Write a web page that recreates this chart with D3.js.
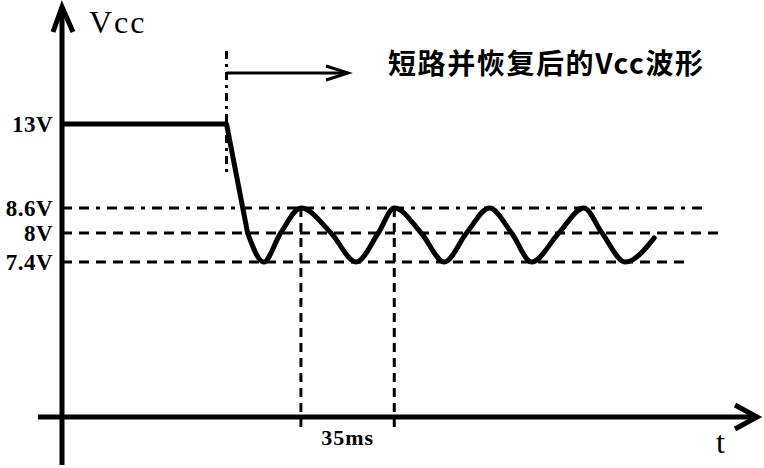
<!DOCTYPE html>
<html>
<head>
<meta charset="utf-8">
<script src="https://cdn.jsdelivr.net/npm/d3@7"></script>
<style>
  html, body { margin: 0; padding: 0; background: #fff; }
  svg { display: block; }
</style>
</head>
<body>
<script>
// ---- data (time in ms, voltage in V) ----
const yTickValues = [13, 8.6, 8, 7.4];
const yTickLabels = ["13V", "8.6V", "8V", "7.4V"];
// guide lines: voltage level and time where the dashed line ends
const guideLevels = [8.6, 8, 7.4];
const guideEnds = [240, 247.5, 234.7];
// initial 13V plateau and drop after short circuit
const dropT = [0, 61.7, 69.6];
const dropV = [13, 13, 8];
// oscillation after recovery
const waveT = [69.6, 75.6, 82.0, 89.6, 100.9, 110.3, 118.6, 124.6, 134.7, 143.4, 151.7, 160.3, 168.6, 176.1, 186.3, 195.7, 202.5, 211.2, 222.1];
const waveV = [8, 7.4, 8, 8.6, 8, 7.4, 8, 8.6, 8, 7.4, 8, 8.6, 8, 7.4, 8, 8.6, 8, 7.4, 7.9];
// period markers (35 ms between two peaks)
const periodMarks = [89.6, 124.6];
const periodLabel = "35ms";
const recoveryT = 61.7;
const titleText = "短路并恢复后的Vcc波形";
const yAxisTitle = "Vcc";
const xAxisTitle = "t";

// ---- drawing ----
const W = 764, H = 468;
const svg = d3.select("body").append("svg").attr("width", W).attr("height", H);

const x = d3.scaleLinear().domain([-9, 261]).range([38, 758]);
const y = d3.scaleLinear().domain([0, 7.4, 8, 8.6, 13]).range([417, 262, 233, 208, 124]);

const ink = "#000";

// dashed guide lines
svg.append("g").selectAll("line").data(guideLevels).join("line")
  .attr("x1", x(0)).attr("x2", (d, i) => x(guideEnds[i]))
  .attr("y1", d => y(d)).attr("y2", d => y(d))
  .attr("stroke", ink).attr("stroke-width", 3)
  .attr("stroke-dasharray", (d, i) => i === 0 ? "10,7,10,7,4,7" : "10,7");

// period marker verticals
svg.append("g").selectAll("line").data(periodMarks).join("line")
  .attr("x1", d => x(d)).attr("x2", d => x(d))
  .attr("y1", y(8.6)).attr("y2", y(0) + 10)
  .attr("stroke", ink).attr("stroke-width", 3)
  .attr("stroke-dasharray", "9,6");

// recovery marker vertical (dash-dot)
svg.append("line")
  .attr("x1", x(recoveryT)).attr("x2", x(recoveryT))
  .attr("y1", 51).attr("y2", 172)
  .attr("stroke", ink).attr("stroke-width", 3)
  .attr("stroke-dasharray", "8,5,3,5");

// arrow to the right
const ay = 73;
svg.append("line").attr("x1", x(recoveryT)).attr("x2", 346).attr("y1", ay).attr("y2", ay)
  .attr("stroke", ink).attr("stroke-width", 3);
svg.append("path").attr("d", `M326,${ay - 7} L348,${ay} L326,${ay + 7}`)
  .attr("fill", "none").attr("stroke", ink).attr("stroke-width", 3);

// axes lines
svg.append("line").attr("x1", x(0)).attr("x2", x(0)).attr("y1", 7).attr("y2", 465)
  .attr("stroke", ink).attr("stroke-width", 5);
svg.append("path").attr("d", `M53,32 L${x(0)},7 L73,32`)
  .attr("fill", "none").attr("stroke", ink).attr("stroke-width", 5).attr("stroke-linejoin", "miter");
svg.append("line").attr("x1", x(-9)).attr("x2", 756).attr("y1", y(0)).attr("y2", y(0))
  .attr("stroke", ink).attr("stroke-width", 5);
svg.append("path").attr("d", `M735,405 L757,${y(0)} L735,429`)
  .attr("fill", "none").attr("stroke", ink).attr("stroke-width", 5);

// y tick labels via axis
const yAxis = d3.axisLeft(y).tickValues(yTickValues)
  .tickFormat((d, i) => yTickLabels[i]).tickSize(0).tickPadding(9);
const gy = svg.append("g").attr("transform", `translate(${x(0)},0)`).call(yAxis);
gy.select(".domain").remove();
gy.selectAll("text")
  .attr("font-family", "'Liberation Serif', serif")
  .attr("font-weight", "bold").attr("font-size", 23).attr("fill", ink)
  .attr("letter-spacing", 0.5);

// waveform
const lineLin = d3.line().x(d => x(d[0])).y(d => y(d[1]));
svg.append("path").datum(dropT.map((t, i) => [t, dropV[i]]))
  .attr("d", lineLin).attr("fill", "none").attr("stroke", ink)
  .attr("stroke-width", 5).attr("stroke-linejoin", "round");
const lineWave = d3.line().x(d => x(d[0])).y(d => y(d[1])).curve(d3.curveMonotoneX);
svg.append("path").datum(waveT.map((t, i) => [t, waveV[i]]))
  .attr("d", lineWave).attr("fill", "none").attr("stroke", ink)
  .attr("stroke-width", 5).attr("stroke-linecap", "round");

// texts
svg.append("text").attr("x", 89).attr("y", 33).text(yAxisTitle)
  .attr("font-family", "'Liberation Serif', serif").attr("font-size", 32).attr("letter-spacing", 2);
svg.append("text").attr("x", 716).attr("y", 453).text(xAxisTitle)
  .attr("font-family", "'Liberation Serif', serif").attr("font-size", 32);
svg.append("text").attr("x", (x(periodMarks[0]) + x(periodMarks[1])) / 2).attr("y", 445)
  .attr("text-anchor", "middle").text(periodLabel)
  .attr("font-family", "'Liberation Serif', serif").attr("font-weight", "bold").attr("font-size", 22)
  .attr("letter-spacing", 1);
svg.append("text").attr("x", 388).attr("y", 74).text(titleText)
  .attr("font-family", "'Noto Sans CJK SC', sans-serif").attr("font-size", 28).attr("font-weight", "bold")
  .attr("textLength", 315).attr("lengthAdjust", "spacing");
</script>
</body>
</html>
